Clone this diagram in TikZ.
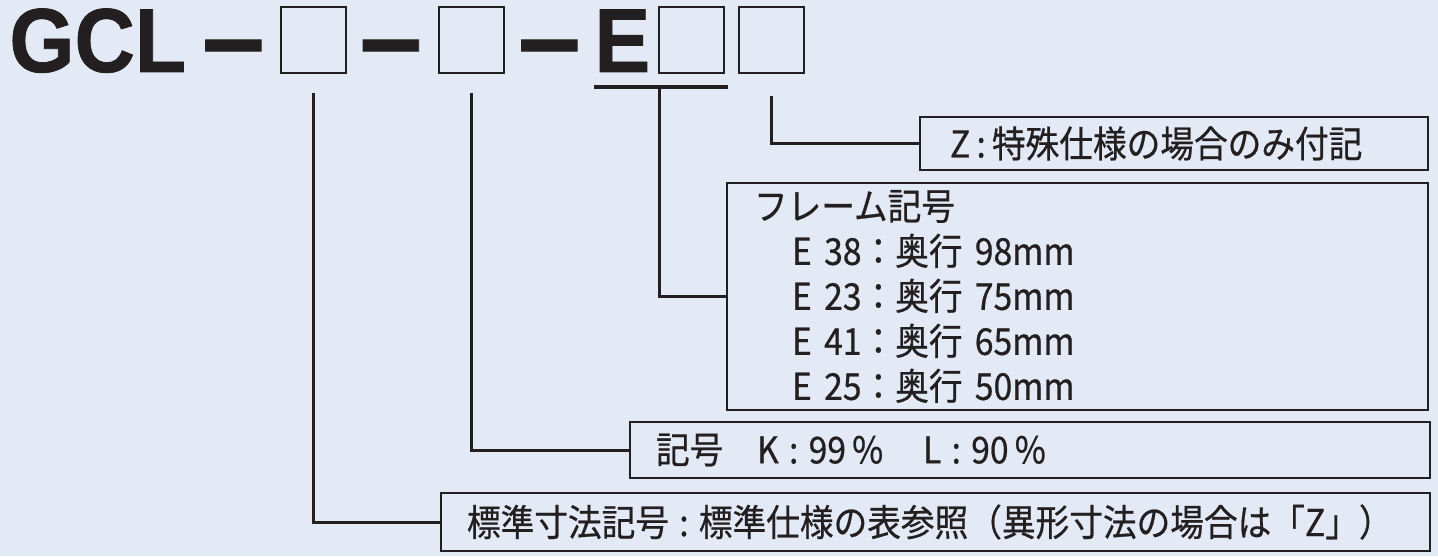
\documentclass[tikz,border=0pt]{standalone}
\usepackage{fontspec}
\usetikzlibrary{positioning}
\newfontfamily\jpfont[FakeStretch=0.91, FakeBold=0.6]{Noto Sans CJK JP}
\newfontfamily\titlefont[FakeStretch=0.92, FakeBold=0.8]{Liberation Sans}
\definecolor{bgblue}{RGB}{227,234,246}
\definecolor{inkblack}{RGB}{35,31,32}
\tikzstyle{infobox} = [
    rectangle,
    draw=inkblack,
    line width=1.4pt,
    align=left,
    inner xsep=13pt,
    text=inkblack,
    font=\jpfont\fontsize{18.5}{22.5}\selectfont
]
\tikzstyle{blank} = [
    rectangle,
    draw=inkblack,
    line width=1pt,
    minimum width=32.5pt,
    minimum height=33pt,
    inner sep=0pt
]
\tikzstyle{title} = [
    font=\titlefont\bfseries\fontsize{45.5}{50}\selectfont,
    inner sep=0pt,
    anchor=base west,
    text=inkblack
]
\tikzstyle{leader} = [line width=1.5pt, draw=inkblack]
\newcommand{\bardash}{\raisebox{-2pt}{\scalebox{1.34}[1.25]{–}}}

\begin{document}
\begin{tikzpicture}[x=0.5pt, y=-0.5pt]

\fill[bgblue] (0,0) rectangle (1438,556);
\useasboundingbox (0,0) rectangle (1438,556);

% model code
\node (gcl) [title] at (9,72) {GCL};
\node (d1) [title, anchor=base] at (233.5,72) {\bardash};
\node (sq1) [blank] at (313.5,40) {};
\node (d2) [title, anchor=base] at (391,72) {\bardash};
\node (sq2) [blank] at (471.5,40) {};
\node (d3) [title, anchor=base] at (549.5,72) {\bardash};
\node (e) [title] at (594,72) {E};
\node (sq3) [blank] at (691,40) {};
\node (sq4) [blank] at (771,40) {};

\coordinate (ulstart) at (594,87);
\coordinate (ulend) at (728,87);
\coordinate (etap) at (659,87);
\draw [leader, line width=2pt] (ulstart) -- (ulend);

% explanations
\node (zbox) [infobox, text width=224pt, inner xsep=15pt, minimum height=26.5pt]
    at (1174,143.5) {Z\,:\,特殊仕様の場合のみ付記};

\node (frame) [infobox, text width=323.5pt, inner xsep=13.5pt, minimum height=113.5pt]
    at (1077.5,296.5)
{フレーム記号\\
\hspace*{19pt}E 38：奥行 98mm\\
\hspace*{19pt}E 23：奥行 75mm\\
\hspace*{19pt}E 41：奥行 65mm\\
\hspace*{19pt}E 25：奥行 50mm};

\node (kbox) [infobox, text width=374pt, minimum height=28pt]
    at (1030,450) {記号　K\;:\;99\,\%　\,L\;:\;90\,\%};

\node (stdbox) [infobox, text width=468.5pt, minimum height=29pt]
    at (935.5,522) {標準寸法記号\;:\;標準仕様の表参照（異形寸法の場合は「Z」）};

\draw [leader] ([yshift=-11pt]sq4.south) |- (zbox.west);
\draw [leader] (etap) |- (frame.west);
\draw [leader] ([yshift=-9.5pt]sq2.south) |- (kbox.west);
\draw [leader] ([yshift=-9.5pt]sq1.south) |- (stdbox.west);

\end{tikzpicture}
\end{document}
